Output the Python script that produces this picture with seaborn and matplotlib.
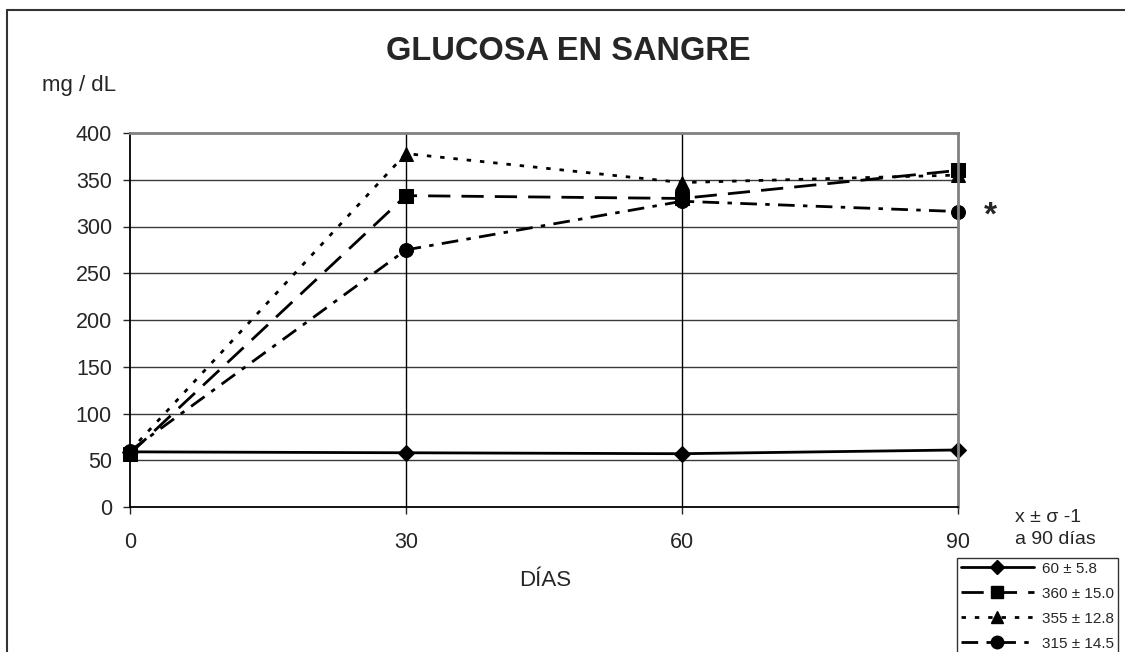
import numpy as np
import matplotlib
matplotlib.use("Agg")
import matplotlib.pyplot as plt
import seaborn as sns
import pandas as pd
from matplotlib.lines import Line2D

# data
dias = [0, 30, 60, 90]
series = ["60 ± 5.8", "360 ± 15.0", "355 ± 12.8", "315 ± 14.5"]
control = [59, 58, 57, 61]
grupo_a = [57, 333, 330, 360]
grupo_b = [60, 378, 347, 355]
grupo_c = [60, 275, 327, 316]

yticks = [0, 50, 100, 150, 200, 250, 300, 350, 400]

sns.set_style("white")
plt.rcParams["font.family"] = ["Liberation Sans", "DejaVu Sans"]

rows = []
for name, vals in zip(series, [control, grupo_a, grupo_b, grupo_c]):
    for d, v in zip(dias, vals):
        rows.append({"dia": d, "valor": v, "serie": name})
df = pd.DataFrame(rows)

markers = {series[0]: "D", series[1]: "s", series[2]: "^", series[3]: "o"}
dashes = {series[0]: "", series[1]: (8, 4), series[2]: (1.6, 3.2), series[3]: (6, 3, 1.6, 3)}
msizes = {series[0]: 8, series[1]: 10, series[2]: 10, series[3]: 10}

W, H = 1125, 652
fig = plt.figure(figsize=(W / 100, H / 100), dpi=100)
ax = fig.add_axes([130 / W, 1 - 507 / H, 828 / W, 374 / H])

sns.lineplot(data=df, x="dia", y="valor", style="serie", style_order=series,
             markers=markers, dashes=dashes, color="black", linewidth=2,
             markersize=10, ax=ax, legend=False)
for line, name in zip(ax.get_lines(), series):
    line.set_clip_on(False)
    line.set_markersize(msizes[name])
    line.set_markeredgecolor("black")
    line.set_markerfacecolor("black")

ax.set_xlim(0, 90)
ax.set_ylim(0, 400)
ax.set_xticks(dias)
ax.set_yticks(yticks)
ax.set_xlabel("")
ax.set_ylabel("")

# grid
for y in yticks[1:-1]:
    ax.axhline(y, color="#3a3a3a", lw=1, zorder=0)
for x in dias[1:-1]:
    ax.axvline(x, color="black", lw=1, zorder=0)

ax.spines["left"].set_color("black")
ax.spines["bottom"].set_color("black")
ax.spines["left"].set_linewidth(1.3)
ax.spines["bottom"].set_linewidth(1.3)
ax.spines["top"].set_color("#808080")
ax.spines["right"].set_color("#808080")
ax.spines["top"].set_linewidth(2)
ax.spines["right"].set_linewidth(2)

ax.tick_params(axis="y", direction="out", length=5, width=1, pad=8,
               labelsize=15.5, left=True)
ax.tick_params(axis="x", direction="out", length=5, width=1, pad=13,
               labelsize=15.5, bottom=True)

# texts
fig.text(568 / W, 1 - 52 / H, "GLUCOSA EN SANGRE", ha="center", va="center",
         fontsize=23.5, fontweight="bold")
fig.text(42 / W, 1 - 86 / H, "mg / dL", ha="left", va="center", fontsize=16)
fig.text(545 / W, 1 - 580 / H, "DÍAS", ha="center", va="center", fontsize=16)
fig.text(1015 / W, 1 - 517 / H, "x ± σ -1", ha="left", va="center", fontsize=14)
fig.text(1015 / W, 1 - 540 / H, "a 90 días", ha="left", va="center", fontsize=14)
fig.text(990 / W, 1 - 216 / H, "*", ha="center", va="center", fontsize=24,
         fontweight="bold")

# legend
handles = [Line2D([0], [0], color="black", lw=2, marker=markers[s],
                  markersize=msizes[s] * 0.9,
                  linestyle="-" if dashes[s] == "" else "--")
           for s in series]
for h, s in zip(handles, series):
    if dashes[s]:
        h.set_dashes(dashes[s])
leg = fig.legend(handles, series, loc="upper left",
                 bbox_to_anchor=(957 / W, 1 - 558 / H), fontsize=11,
                 frameon=True, fancybox=False, edgecolor="black",
                 handlelength=4.8, handletextpad=0.5, labelspacing=0.72,
                 borderpad=0.25, markerscale=1, borderaxespad=0)
leg.get_frame().set_linewidth(1)

# outer border of the chart area
fig.add_artist(Line2D([7 / W, 1], [1 - 10 / H, 1 - 10 / H], color="#333333",
                      lw=1.5, transform=fig.transFigure))
fig.add_artist(Line2D([7 / W, 7 / W], [0, 1 - 10 / H], color="#333333",
                      lw=1.5, transform=fig.transFigure))

fig.savefig("out.png", dpi=100)
